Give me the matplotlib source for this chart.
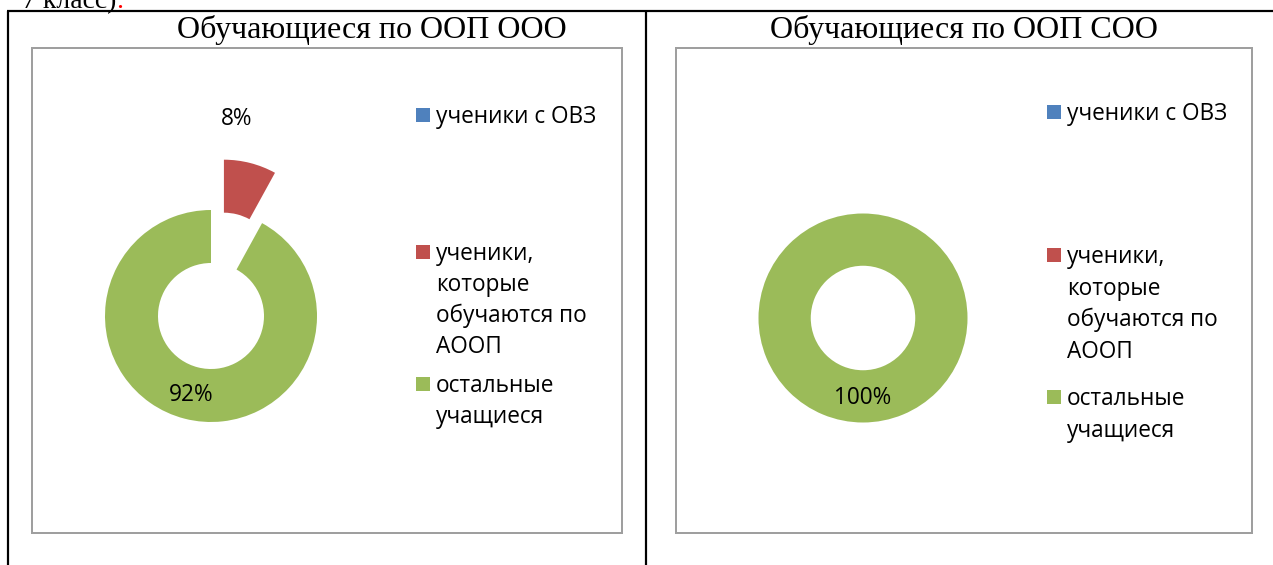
import matplotlib
matplotlib.use("Agg")
import matplotlib.pyplot as plt
from matplotlib.patches import Rectangle

# ---- data ----
categories = ["ученики с ОВЗ", "ученики,\nкоторые\nобучаются по\nАООП", "остальные\nучащиеся"]
colors = ["#4F81BD", "#C0504D", "#9BBB59"]
ooo_title = "Обучающиеся по ООП ООО"
soo_title = "Обучающиеся по ООП СОО"
ooo_values = [0, 8, 92]
soo_values = [0, 0, 100]
top_text = "7 класс)"
top_text_red = "."

W, H = 1273, 565
DPI = 100
fig = plt.figure(figsize=(W / DPI, H / DPI), dpi=DPI)
fig.patch.set_facecolor("white")
bg = fig.add_axes([0, 0, 1, 1])
bg.set_xlim(0, W)
bg.set_ylim(H, 0)
bg.axis("off")

PX = 72 / DPI  # points per pixel
SANS = "Open Sans"
SERIF = "Liberation Serif"
FS = 16.3

# document table lines
bg.plot([7, W], [11, 11], color="black", lw=2.2 * PX, solid_capstyle="butt")
bg.plot([8, 8], [11, H], color="black", lw=2.2 * PX, solid_capstyle="butt")
bg.plot([646, 646], [11, H], color="black", lw=2.2 * PX, solid_capstyle="butt")

# document text above the table (cut off by the top edge, as in the source screenshot)
t1 = bg.text(22, 8, top_text, family=SERIF, fontsize=20, va="baseline", ha="left", color="black")
fig.canvas.draw()
ext = t1.get_window_extent(fig.canvas.get_renderer())
bg.text(ext.x1, 8, top_text_red, family=SERIF, fontsize=20, va="baseline", ha="left", color="red")

# chart frames
bg.add_patch(Rectangle((32, 48), 590, 485, fill=False, edgecolor="#9f9f9f", lw=2 * PX))
bg.add_patch(Rectangle((676, 48), 576, 485, fill=False, edgecolor="#9f9f9f", lw=2 * PX))

# titles
bg.text(372, 38, ooo_title, family=SERIF, fontsize=23, ha="center", va="baseline")
bg.text(964, 38, soo_title, family=SERIF, fontsize=23, ha="center", va="baseline")


def donut(values, cx, cy, R, explode_frac):
    half = 2.0 * R
    ax = fig.add_axes([(cx - half) / W, (H - cy - half) / H, 2 * half / W, 2 * half / H])
    wedges, texts, autotexts = ax.pie(
        values, colors=colors, startangle=90, counterclock=False, radius=1,
        explode=[0, explode_frac, 0],
        wedgeprops=dict(width=0.5, linewidth=0),
        autopct=lambda p: f"{p:.0f}%" if p > 0 else "",
        pctdistance=0.77,
        textprops=dict(fontsize=FS, family=SANS, color="black"),
    )
    ax.set_xlim(-2, 2)
    ax.set_ylim(-2, 2)
    ax.set_aspect("equal")
    ax.axis("off")
    ax.patch.set_visible(False)
    return ax, autotexts


def legend(x_marker, x_text, baselines, pitch):
    for lab, col, b in zip(categories, colors, baselines):
        bg.add_patch(Rectangle((x_marker, b - 15.5), 14.5, 14, facecolor=col, lw=0))
        for i, line in enumerate(lab.split("\n")):
            bg.text(x_text, b + i * pitch, line, family=SANS, fontsize=FS,
                    ha="left", va="baseline", color="black")


ax1, at1 = donut(ooo_values, 211, 316, 106, 0.49)
at1[1].set_position((0.245, 1.86))
ax2, at2 = donut(soo_values, 863, 318, 104.5, 0.49)

legend(415.5, 436, [123, 260, 392], 31)
legend(1046.5, 1067, [120, 263, 405], 31.7)

fig.savefig("out.png", dpi=DPI, facecolor="white")
